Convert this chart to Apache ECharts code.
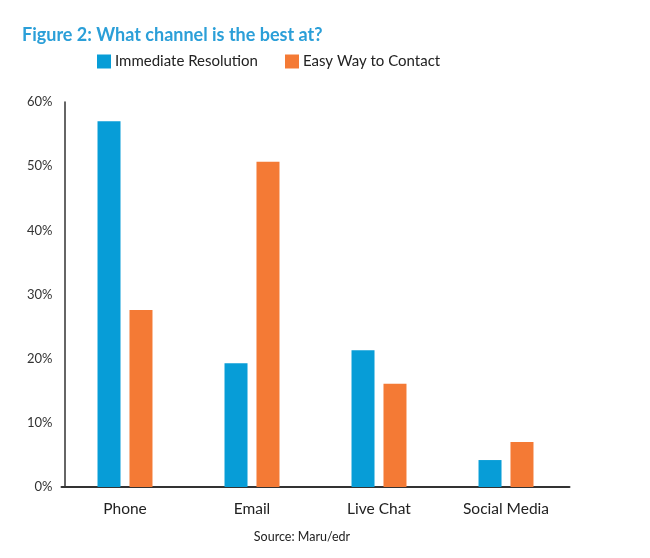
<!DOCTYPE html>
<html>
<head>
<meta charset="utf-8">
<script src="https://cdn.jsdelivr.net/npm/echarts@6/dist/echarts.min.js"></script>
<style>html,body{margin:0;padding:0;background:#fff}#c{width:650px;height:558px}</style>
</head>
<body>
<div id="c"></div>
<script>
const categories = ['Phone', 'Email', 'Live Chat', 'Social Media'];
const seriesNames = ['Immediate Resolution', 'Easy Way to Contact'];
const immediateResolution = [57, 19.3, 21.3, 4.2];
const easyWayToContact = [27.6, 50.7, 16.1, 7];
const yTicks = [0, 10, 20, 30, 40, 50, 60];

const FONT = 'Lato';
const chart = echarts.init(document.getElementById('c'), null, {renderer: 'canvas'});
chart.setOption({
  animation: false,
  backgroundColor: '#ffffff',
  title: [
    {
      text: 'Figure 2: What channel is the best at?',
      left: 17, top: 21,
      textStyle: {fontFamily: FONT, fontWeight: 'bold', fontSize: 18, color: '#2b9fd8'}
    },
    {
      text: 'Source: Maru/edr',
      left: 297, top: 525, textAlign: 'center',
      textStyle: {fontFamily: FONT, fontWeight: 'normal', fontSize: 12.5, color: '#222'}
    }
  ],
  legend: {
    data: seriesNames,
    left: 92, top: 49,
    icon: 'rect', itemWidth: 14, itemHeight: 14, itemGap: 27,
    textStyle: {fontFamily: FONT, fontSize: 15, color: '#222', padding: [0, 0, 0, -1]}
  },
  grid: {left: 61.5, right: 80.5, top: 102, bottom: 71, containLabel: false},
  xAxis: {
    type: 'category', data: categories,
    axisLine: {lineStyle: {color: '#333', width: 2}},
    axisTick: {show: false},
    axisLabel: {fontFamily: FONT, fontSize: 15.5, color: '#222', margin: 14}
  },
  yAxis: {
    type: 'value', min: yTicks[0], max: yTicks[yTicks.length - 1], interval: 10,
    offset: -3,
    axisLine: {show: true, lineStyle: {color: '#333', width: 1.5}},
    axisTick: {show: false},
    splitLine: {show: false},
    axisLabel: {formatter: '{value}%', fontFamily: FONT, fontSize: 13, color: '#333', margin: 12}
  },
  series: [
    {name: seriesNames[0], type: 'bar', data: immediateResolution, barWidth: 23, barGap: '39%',
     itemStyle: {color: '#079dd7'}},
    {name: seriesNames[1], type: 'bar', data: easyWayToContact, barWidth: 23, barGap: '39%',
     itemStyle: {color: '#f47a35'}}
  ]
});
</script>
</body>
</html>
